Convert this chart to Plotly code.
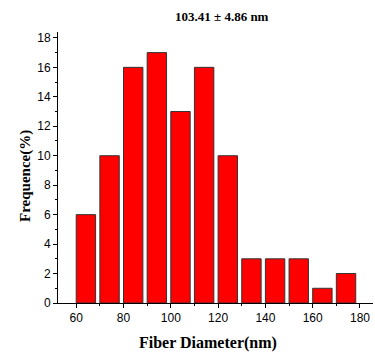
import plotly.graph_objects as go

bin_left = [60, 70, 80, 90, 100, 110, 120, 130, 140, 150, 160, 170]
frequency = [6, 10, 16, 17, 13, 16, 10, 3, 3, 3, 1, 2]
x_ticks = [60, 80, 100, 120, 140, 160, 180]
y_ticks = [0, 2, 4, 6, 8, 10, 12, 14, 16, 18]

fig = go.Figure()
fig.add_trace(go.Bar(
    x=bin_left, y=frequency, width=8.2, offset=0,
    marker=dict(color="#FF0000", line=dict(color="#333333", width=1)),
))

tick_font = dict(family="Liberation Sans, Arial, sans-serif", size=12, color="black")
serif = "Liberation Serif, Times New Roman, serif"

fig.update_layout(
    width=375, height=354,
    margin=dict(l=58, r=2, t=32, b=51, autoexpand=False),
    paper_bgcolor="white", plot_bgcolor="white",
    showlegend=False,
    xaxis=dict(range=[52.3, 185.5], tickvals=x_ticks, ticks="outside", ticklen=4, tickwidth=1,
               tickcolor="black", showline=True, linecolor="black", linewidth=1, showgrid=False,
               zeroline=False, tickfont=tick_font, automargin=False,
               minor=dict(dtick=10, tick0=0, ticks="outside", ticklen=2, tickcolor="black", showgrid=False)),
    yaxis=dict(range=[0, 18.4], tickvals=y_ticks, ticks="outside", ticklen=4, tickwidth=1,
               tickcolor="black", showline=True, linecolor="black", linewidth=1, showgrid=False,
               zeroline=False, tickfont=tick_font, automargin=False,
               minor=dict(dtick=1, tick0=0, ticks="outside", ticklen=2, tickcolor="black", showgrid=False)),
    annotations=[
        dict(text="<b>103.41 ± 4.86 nm</b>", xref="paper", yref="paper", x=0.5206, y=1.059,
             xanchor="center", yanchor="middle", showarrow=False,
             font=dict(family=serif, size=13, color="black")),
        dict(text="<b>Fiber Diameter(nm)</b>", xref="paper", yref="paper", x=0.476, y=-0.1476,
             xanchor="center", yanchor="middle", showarrow=False,
             font=dict(family=serif, size=16, color="black")),
        dict(text="<b>Frequence(%)</b>", xref="paper", yref="paper", x=-0.1048, y=0.4686,
             xanchor="center", yanchor="middle", showarrow=False, textangle=-90,
             font=dict(family=serif, size=15, color="black")),
    ],
)

fig.write_html("out.html", config={"displayModeBar": False},
               post_script="document.body.style.margin='0';document.body.style.overflow='hidden';")
